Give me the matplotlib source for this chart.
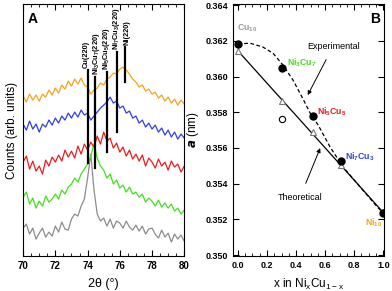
import numpy as np
import matplotlib
matplotlib.use('Agg')
import matplotlib.pyplot as plt
from matplotlib.ticker import MultipleLocator, FormatStrFormatter

plt.rcParams['font.family'] = ['Liberation Sans', 'DejaVu Sans']
plt.rcParams['font.weight'] = 'bold'
plt.rcParams['mathtext.default'] = 'regular'

# ---- panel A : XRD traces (arb. units) ----
two_theta = np.round(np.arange(70, 80.01, 0.2), 1)

cu10 = [26, 30, 20, 26, 15, 21, 26, 17, 22, 18, 28, 22, 32, 25, 24, 35, 40, 38, 48, 55,
        76, 100, 64, 40, 33, 36, 28, 35, 26, 33, 31, 26, 33, 27, 24, 29, 23, 28, 20, 25,
        26, 20, 16, 24, 17, 21, 12, 20, 15, 19, 13]
ni3cu7 = [57, 62, 50, 56, 46, 53, 48, 58, 52, 55, 60, 55, 64, 60, 67, 70, 76, 72, 80, 85,
          90, 98, 110, 96, 88, 84, 76, 80, 70, 74, 66, 69, 62, 67, 60, 62, 57, 60, 52, 56,
          53, 48, 54, 47, 51, 46, 50, 43, 46, 40, 44]
ni5cu5 = [92, 98, 85, 93, 83, 88, 80, 94, 88, 97, 92, 99, 93, 104, 97, 103, 96, 108, 100, 110,
          104, 112, 107, 118, 110, 122, 113, 116, 106, 111, 102, 107, 98, 104, 95, 100, 93, 99, 88, 96,
          92, 86, 95, 88, 92, 84, 93, 87, 90, 82, 88]
ni7cu3 = [130, 124, 133, 125, 130, 122, 130, 127, 134, 129, 136, 131, 138, 134, 141, 136, 142, 137, 144, 139,
          141, 134, 138, 142, 146, 149, 152, 157, 151, 153, 146, 148, 141, 143, 136, 138, 131, 134, 127, 131,
          125, 129, 122, 126, 119, 124, 117, 122, 115, 120, 116]
ni10 = [158, 152, 160, 154, 159, 153, 160, 157, 164, 159, 166, 161, 169, 165, 173, 168, 175, 170, 176, 169,
        167, 160, 164, 166, 171, 169, 175, 177, 181, 180, 185, 187, 184, 180, 175, 172, 167, 169, 163, 165,
        160, 162, 156, 159, 153, 157, 151, 155, 149, 154, 150]

traces = [cu10, ni3cu7, ni5cu5, ni7cu3, ni10]
trace_colors = ['#8c8c8c', '#44e01c', '#ee1c1c', '#2f3ee8', '#f7a21a']

peak_pos = [74.05, 74.45, 75.2, 75.85, 76.3]
peak_lo = [91, 86, 102, 122, 172]
peak_hi = [184, 177, 182, 202, 207]
peak_label_x = [73.93, 74.57, 75.2, 75.8, 76.42]
peak_names = ['Cu(220)', 'Ni$_3$Cu$_7$(220)', 'Ni$_5$Cu$_5$(220)',
              'Ni$_7$Cu$_3$(220)', 'Ni(220)']

# ---- panel B : lattice parameter ----
x_ni = [0.0, 0.30, 0.515, 0.71, 1.0]
a_exp = [0.36182, 0.36046, 0.35778, 0.35526, 0.35237]
a_tri = [0.36144, 0.35862, 0.35690, 0.35504, 0.35240]
x_open = [0.30]
a_open = [0.35760]
x_theo = [0.0, 1.0]
a_theo = [0.36144, 0.35238]
x_fit = [0.0, 0.083, 0.172, 0.241, 0.310, 0.379, 0.441, 0.497, 0.552, 0.634, 0.724, 0.841, 0.959, 0.993]
a_fit = [0.36182, 0.36187, 0.36165, 0.36131, 0.36064, 0.3598, 0.35885, 0.35795, 0.35728,
         0.35605, 0.35493, 0.35381, 0.35269, 0.35241]
names = ['Cu$_{10}$', 'Ni$_3$Cu$_7$', 'Ni$_5$Cu$_5$', 'Ni$_7$Cu$_3$', 'Ni$_{10}$']
name_colors = ['#9a9a9a', '#44e01c', '#ee1c1c', '#2f3ee8', '#f7a21a']
name_xy = [(-0.005, 0.36271), (0.338, 0.36075), (0.545, 0.35801), (0.738, 0.35549), (0.876, 0.35179)]

fig = plt.figure(figsize=(3.92, 2.91), dpi=100)

axA = fig.add_axes([0.059, 0.120, 0.411, 0.866])
for y, c in zip(traces, trace_colors):
    axA.plot(two_theta, y, color=c, lw=0.9)
for p, lo, hi, lx, nm in zip(peak_pos, peak_lo, peak_hi, peak_label_x, peak_names):
    axA.plot([p, p], [lo, hi], color='black', lw=1.6)
    axA.text(lx, hi + 2, nm, rotation=90, ha='center', va='bottom', fontsize=5.3)
axA.set_xlim(70, 80)
axA.set_ylim(-2, 250)
axA.xaxis.set_major_locator(MultipleLocator(2))
axA.xaxis.set_minor_locator(MultipleLocator(0.5))
axA.set_yticks([])
axA.tick_params(axis='x', which='both', direction='in', top=True, labelsize=7)
axA.tick_params(axis='x', which='major', length=4)
axA.tick_params(axis='x', which='minor', length=2)
axA.set_xlabel('2θ (°)', fontsize=9, labelpad=5)
axA.set_ylabel('Counts (arb. units)', fontsize=8.5, labelpad=4)
axA.text(0.03, 0.94, 'A', transform=axA.transAxes, fontsize=10, va='center')

axB = fig.add_axes([0.594, 0.120, 0.386, 0.866])
axB.plot(x_theo, a_theo, color='black', lw=0.9)
axB.plot(x_fit, a_fit, color='black', lw=0.9, ls=(0, (3, 2)))
axB.plot(x_ni, a_tri, ls='none', marker='^', ms=5, mfc='white', mec='#777777', mew=0.8)
axB.plot(x_open, a_open, ls='none', marker='o', ms=4.5, mfc='white', mec='black', mew=0.8)
axB.plot(x_ni, a_exp, ls='none', marker='o', ms=5, color='black')
for nm, c, (tx, ty) in zip(names, name_colors, name_xy):
    axB.text(tx, ty, nm, color=c, fontsize=6.3, ha='left', va='center')
axB.annotate('Experimental', xy=(0.48, 0.35896), xytext=(0.655, 0.3617),
             fontsize=6.5, ha='center', va='center', fontweight='normal',
             arrowprops=dict(arrowstyle='-|>', color='black', lw=0.7, shrinkA=5, shrinkB=0,
                             mutation_scale=6))
axB.annotate('Theoretical', xy=(0.566, 0.35599), xytext=(0.428, 0.35325),
             fontsize=6.5, ha='center', va='center', fontweight='normal',
             arrowprops=dict(arrowstyle='-|>', color='black', lw=0.7, shrinkA=5, shrinkB=0,
                             mutation_scale=6))
axB.set_xlim(-0.035, 1.006)
axB.set_ylim(0.34994, 0.36406)
axB.xaxis.set_major_locator(MultipleLocator(0.2))
axB.xaxis.set_minor_locator(MultipleLocator(0.05))
axB.yaxis.set_major_locator(MultipleLocator(0.002))
axB.xaxis.set_major_formatter(FormatStrFormatter('%.1f'))
axB.yaxis.set_major_formatter(FormatStrFormatter('%.3f'))
axB.tick_params(which='both', direction='in', top=True, right=True, labelsize=6.5)
axB.tick_params(which='major', length=4)
axB.tick_params(which='minor', length=2)
axB.set_xlabel('x in Ni$_x$Cu$_{1-x}$', fontsize=8.5, labelpad=5)
axB.set_ylabel('$\\mathbf{\\it{a}}$ (nm)', fontsize=8.5, labelpad=3)
axB.text(0.94, 0.94, 'B', transform=axB.transAxes, fontsize=10, ha='center', va='center')

for ax in (axA, axB):
    for lab in ax.get_xticklabels() + ax.get_yticklabels():
        lab.set_fontweight('bold')

fig.savefig('out.png', dpi=100)
